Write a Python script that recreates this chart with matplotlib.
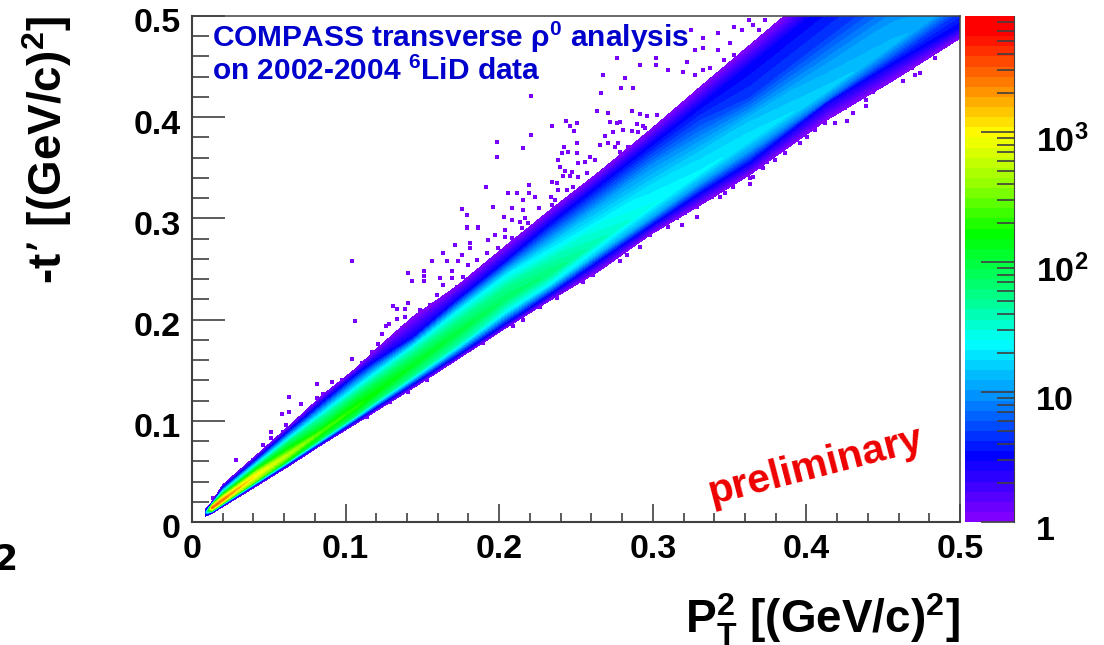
#coding=utf8

import numpy as np
import matplotlib
matplotlib.use('Agg')
import matplotlib.pyplot as plt
from matplotlib.colors import LinearSegmentedColormap
from matplotlib.ticker import FixedLocator, NullFormatter
from matplotlib.transforms import ScaledTranslation

plt.rcParams['font.family'] = ['Liberation Sans', 'DejaVu Sans']
plt.rcParams['font.weight'] = 'bold'
plt.rcParams['mathtext.default'] = 'regular'

# band, one column per pt2 value
pt2 = [0.0085, 0.013, 0.02, 0.042, 0.064, 0.0855, 0.107, 0.118, 0.144, 0.172,
       0.205, 0.233, 0.266, 0.298, 0.331, 0.363, 0.413, 0.457, 0.5]
edge_lo = [0.0055, 0.0085, 0.0151, 0.0355, 0.0563, 0.0775, 0.0975, 0.108, 0.1325, 0.16,
           0.1925, 0.219, 0.249, 0.2836, 0.3132, 0.343, 0.397, 0.4368, 0.478]
blue_lo = [0.006, 0.0095, 0.0165, 0.0375, 0.0585, 0.0795, 0.1005, 0.1115, 0.1365, 0.164,
           0.197, 0.225, 0.259, 0.292, 0.325, 0.3547, 0.414, 0.4535, 0.4895]
shoulder = [0.0075, 0.0115, 0.019, 0.041, 0.0625, 0.084, 0.106, 0.118, 0.145, 0.174,
            0.209, 0.235, 0.268, 0.3, 0.335, 0.367, 0.417, 0.462, 0.505]
ridge = [0.0085, 0.0138, 0.0216, 0.0464, 0.068, 0.0905, 0.1135, 0.1255, 0.155, 0.186,
         0.2215, 0.246, 0.2787, 0.3116, 0.345, 0.378, 0.426, 0.473, 0.517]
plateau = [0.009, 0.015, 0.024, 0.049, 0.071, 0.094, 0.1215, 0.134, 0.163, 0.196,
           0.232, 0.258, 0.294, 0.33, 0.364, 0.398, 0.45, 0.497, 0.545]
mid = [0.0095, 0.017, 0.0275, 0.054, 0.08, 0.105, 0.131, 0.1436, 0.172, 0.206,
       0.244, 0.272, 0.3116, 0.3509, 0.387, 0.419, 0.477, 0.527, 0.577]
blue_up = [0.0105, 0.0185, 0.0335, 0.062, 0.091, 0.119, 0.146, 0.158, 0.183, 0.219,
           0.259, 0.295, 0.334, 0.372, 0.412, 0.451, 0.512, 0.565, 0.619]
edge_up = [0.0119, 0.02, 0.0366, 0.066, 0.096, 0.126, 0.152, 0.168, 0.203, 0.2325,
           0.2737, 0.308, 0.347, 0.387, 0.43, 0.471, 0.535, 0.59, 0.645]

# counts on those rows
ridge_n = [3, 2800, 2600, 1000, 500, 250, 200, 160, 125, 100, 70, 60, 38, 26, 22, 20, 16, 13, 10]
plateau_n = [3, 1500, 1000, 500, 250, 130, 100, 90, 70, 55, 50, 40, 26, 19, 16, 14, 11, 10, 8]
shoulder_n = [2, 300, 500, 300, 150, 80, 70, 60, 50, 40, 25, 22, 14, 11, 10, 10, 7, 6, 5]
mid_n = [2, 200, 120, 80, 60, 40, 30, 30, 30, 25, 22, 18, 12, 9, 7, 5, 5, 5, 5]
blue_n = 3
edge_n = 1

# single-count cells outside the dense band
stray_x = [0.104, 0.1061, 0.1788, 0.1862, 0.1712, 0.181, 0.181, 0.1636, 0.156, 0.1658,
           0.1408, 0.151, 0.151, 0.151, 0.1434, 0.1691, 0.1615, 0.1691, 0.1973, 0.2038,
           0.2038, 0.1929, 0.1756, 0.1734, 0.1311, 0.1337, 0.1387, 0.1408, 0.1387, 0.1337,
           0.1285, 0.1261, 0.1239, 0.1213, 0.104,
           0.2342, 0.2435, 0.2461, 0.2487, 0.2509, 0.2509, 0.2422, 0.245, 0.2407, 0.2385,
           0.2396, 0.2428, 0.2472, 0.2504, 0.2515, 0.2559, 0.2591, 0.2624, 0.2417, 0.2461,
           0.2515, 0.257, 0.2689, 0.2711, 0.2635, 0.2721, 0.2765, 0.2743, 0.2808, 0.2786,
           0.2863, 0.2917, 0.296, 0.3025, 0.2895, 0.2938, 0.2863, 0.2906, 0.2949, 0.2656,
           0.2711, 0.2754, 0.2776, 0.2841, 0.2786, 0.2342, 0.2374, 0.2385, 0.2439, 0.2483,
           0.2363, 0.2342,
           0.3286, 0.3188, 0.3101, 0.321, 0.3383, 0.3438, 0.347, 0.352, 0.3633, 0.3633,
           0.3654, 0.3719, 0.283, 0.2786, 0.2917, 0.2613, 0.2548, 0.2982, 0.3459, 0.3286,
           0.3155,
           0.4262, 0.4186, 0.4306, 0.4388, 0.4388, 0.4631, 0.4707, 0.474, 0.4686, 0.4837,
           0.4837, 0.4761, 0.4902, 0.4978, 0.3958, 0.4002, 0.4056, 0.4121, 0.3861, 0.3796,
           0.3709, 0.3741, 0.3893, 0.4251, 0.4316, 0.4436, 0.4533, 0.4598, 0.4653, 0.474,
           0.3629, 0.3527, 0.3578, 0.3654, 0.373, 0.3693, 0.3426, 0.3426, 0.3502, 0.3527,
           0.3464, 0.3324, 0.3324, 0.3274, 0.3249, 0.3223, 0.3096, 0.3198, 0.3274, 0.3324,
           0.3375, 0.2766, 0.2919, 0.302, 0.302, 0.2678, 0.2817, 0.2792, 0.2868, 0.2665,
           0.2208,
           0.1984, 0.1984, 0.1912, 0.1756, 0.1788, 0.1962, 0.1788, 0.1864,
           0.2158, 0.2208, 0.2056, 0.2119, 0.2195, 0.2195, 0.2234, 0.2158, 0.2335, 0.2081,
           0.2158, 0.2259, 0.2031, 0.2081, 0.217,
           0.0812, 0.0909, 0.0634, 0.071, 0.0634, 0.0584, 0.061, 0.0512, 0.0512, 0.046,
           0.0286, 0.0812, 0.0855, 0.0193, 0.0247, 0.0139, 0.0334, 0.0399, 0.0551, 0.0595,
           0.0725, 0.0801, 0.092, 0.1007,
           0.0975, 0.105, 0.1105, 0.117, 0.1246, 0.1365, 0.1419, 0.1473, 0.1484, 0.155,
           0.1593, 0.1636, 0.1723, 0.1766, 0.1799, 0.1853, 0.1918, 0.1994, 0.2081, 0.2146,
           0.2135, 0.219,
           0.1137, 0.1289, 0.1408, 0.1528, 0.1897, 0.2092, 0.2157, 0.2266, 0.2374]
stray_t = [0.2582, 0.1986, 0.2912, 0.2912, 0.2737, 0.2757, 0.2708, 0.2661, 0.2582, 0.2582,
           0.2457, 0.248, 0.2432, 0.2382, 0.2381, 0.248, 0.2411, 0.2411, 0.2836, 0.2885,
           0.2819, 0.2787, 0.2638, 0.2582, 0.2134, 0.2108, 0.2108, 0.2161, 0.2029, 0.2006,
           0.1957, 0.1937, 0.1858, 0.1759, 0.1611,
           0.3913, 0.3962, 0.3913, 0.3867, 0.394, 0.3742, 0.3709, 0.3659, 0.3643, 0.3577,
           0.3505, 0.3471, 0.3455, 0.3643, 0.3544, 0.356, 0.361, 0.3577, 0.3419, 0.3419,
           0.3412, 0.3446, 0.3814, 0.4039, 0.4061, 0.3955, 0.3946, 0.3857, 0.3874, 0.3955,
           0.4061, 0.4032, 0.4012, 0.4022, 0.3933, 0.3913, 0.3867, 0.3857, 0.389, 0.3725,
           0.3742, 0.3709, 0.3742, 0.3709, 0.3659, 0.3363, 0.3347, 0.3281, 0.3281, 0.3307,
           0.3182, 0.3132,
           0.3011, 0.2935, 0.2912, 0.305, 0.3209, 0.3209, 0.3248, 0.3307, 0.334, 0.3399,
           0.3412, 0.3495, 0.2638, 0.2582, 0.272, 0.2441, 0.2375, 0.2836, 0.3347, 0.3116,
           0.3001,
           0.3962, 0.3946, 0.4039, 0.4111, 0.417, 0.4361, 0.4417, 0.4439, 0.4483, 0.4582,
           0.4648, 0.4638, 0.4746, 0.4829, 0.3748, 0.3807, 0.3874, 0.3941, 0.3643, 0.3577,
           0.3511, 0.3561, 0.3742, 0.4088, 0.417, 0.4252, 0.4384, 0.445, 0.4548, 0.4631,
           0.496, 0.4894, 0.4862, 0.4911, 0.496, 0.4862, 0.4829, 0.4664, 0.473, 0.4615,
           0.4565, 0.478, 0.4681, 0.4664, 0.4862, 0.4548, 0.4466, 0.445, 0.4417, 0.4466,
           0.4483, 0.4582, 0.4516, 0.4582, 0.4516, 0.4417, 0.4384, 0.4285, 0.4285, 0.4236,
           0.4209,
           0.3758, 0.361, 0.3307, 0.309, 0.3034, 0.311, 0.2908, 0.2908,
           0.3693, 0.3824, 0.3248, 0.3248, 0.333, 0.3248, 0.3214, 0.3182, 0.3214, 0.31,
           0.3083, 0.31, 0.3017, 0.2984, 0.3001,
           0.1361, 0.1386, 0.1238, 0.1163, 0.1084, 0.1064, 0.0958, 0.0886, 0.0834, 0.0761,
           0.0613, 0.1222, 0.1265, 0.0309, 0.0375, 0.0234, 0.0514, 0.0613, 0.0794, 0.0893,
           0.1041, 0.1123, 0.1304, 0.142,
           0.1403, 0.1469, 0.1568, 0.1683, 0.1732, 0.1914, 0.1947, 0.1996, 0.2095, 0.2144,
           0.2243, 0.2342, 0.2325, 0.2424, 0.2539, 0.2589, 0.2655, 0.2705, 0.2803, 0.2902,
           0.2967, 0.2951,
           0.1034, 0.1189, 0.1288, 0.1403, 0.1766, 0.1937, 0.1996, 0.2122, 0.221]

# palette anchors as seen on the colour bar
palette_log = [0, 0.48, 0.94, 1.37, 1.7, 2.22, 2.6, 3.0, 3.35, 3.8, 3.892]
palette_col = ['#8000ff', '#0000ff', '#0090ff', '#00ffff', '#00ff90', '#00ff00',
               '#90ff00', '#ffff00', '#ff9000', '#ff0000', '#ff0000']

axis_ticks = [0, 0.1, 0.2, 0.3, 0.4, 0.5]
axis_labels = ['0', '0.1', '0.2', '0.3', '0.4', '0.5']
bar_ticks = [1, 10, 100, 1000]
bar_labels = ['1', '10', '$10^{2}$', '$10^{3}$']

W, H = 1104.0, 645.0
DARK = '#404040'


def box(left, top, right, bottom):
    return [left / W, 1 - bottom / H, (right - left) / W, (bottom - top) / H]


def shift_down(labels, fig, px):
    off = ScaledTranslation(0, -px / 100.0, fig.dpi_scale_trans)
    for lab in labels:
        lab.set_transform(lab.get_transform() + off)


def main():
    fig = plt.figure(figsize=(W / 100, H / 100), dpi=100)
    ax = fig.add_axes(box(192, 16, 960, 522))
    cax = fig.add_axes(box(965, 16, 1014, 522))

    n = len(pt2)
    rows_t = np.array([edge_lo, blue_lo, shoulder, ridge, plateau, mid, blue_up, edge_up])
    rows_n = np.array([[edge_n] * n, [blue_n] * n, shoulder_n, ridge_n, plateau_n, mid_n,
                       [blue_n] * n, [edge_n] * n], dtype=float)
    cols_x = np.tile(np.array(pt2), (rows_t.shape[0], 1))

    top = palette_log[-1]
    cmap = LinearSegmentedColormap.from_list(
        'compass', [(v / top, c) for v, c in zip(palette_log, palette_col)], N=50)
    levels = np.linspace(0, top, 51)

    ax.scatter(stray_x, stray_t, marker='s', s=12, color='#7a00ff', linewidths=0, zorder=1)
    ax.contourf(cols_x, rows_t, np.log10(rows_n), levels=levels, cmap=cmap,
                vmin=0, vmax=top, zorder=2)

    ax.set_xlim(0, 0.5)
    ax.set_ylim(0, 0.5)
    ax.set_xticks(axis_ticks)
    ax.set_xticklabels(axis_labels)
    ax.set_yticks(axis_ticks)
    ax.set_yticklabels(axis_labels)
    ax.xaxis.set_minor_locator(FixedLocator(np.arange(0, 0.501, 0.02)))
    ax.yaxis.set_minor_locator(FixedLocator(np.arange(0, 0.501, 0.02)))
    ax.tick_params(axis='x', which='major', direction='in', length=13, width=1.2,
                   color=DARK, labelsize=24.5, pad=9)
    ax.tick_params(axis='x', which='minor', direction='in', length=6.5, width=1.2, color=DARK)
    ax.tick_params(axis='y', which='major', direction='in', length=24, width=1.2,
                   color=DARK, labelsize=24.5, pad=8)
    ax.tick_params(axis='y', which='minor', direction='in', length=12, width=1.2, color=DARK)
    for side in ax.spines:
        ax.spines[side].set_color(DARK)
        ax.spines[side].set_linewidth(1.5)
    ax.spines['top'].set_linewidth(1.1)
    ax.spines['right'].set_linewidth(1.1)
    shift_down(ax.get_yticklabels(), fig, 4.5)

    ax.set_xlabel(r'$P_T^2$ [(GeV/c)$^2$]', fontsize=33, fontweight='bold', loc='right')
    ax.xaxis.set_label_coords(1.0, -0.138)
    ax.set_ylabel("-t’ [(GeV/c)$^2$]", fontsize=33, fontweight='bold', loc='top')
    ax.yaxis.set_label_coords(-0.153, 1.0)

    ax.text(0.013, 0.479, r'COMPASS transverse $\rho^{0}$ analysis', color='#0000cc',
            fontsize=21.5, va='center', zorder=5)
    ax.text(0.013, 0.4455, 'on 2002-2004 $^{6}$LiD data', color='#0000cc',
            fontsize=21.5, va='center', zorder=5)
    ax.text(0.336, 0.0285, 'preliminary', color='#ee0000', fontsize=29.5, rotation=14.5,
            rotation_mode='anchor', va='center', ha='left', zorder=5)

    # colour bar, one step per palette level
    bar_edges = 10 ** levels
    cax.pcolormesh([0, 1], bar_edges, ((levels[:-1] + levels[1:]) / 2)[:, None],
                   cmap=cmap, vmin=0, vmax=top)
    cax.set_yscale('log')
    cax.set_ylim(1, bar_edges[-1])
    cax.set_xticks([])
    cax.yaxis.tick_right()
    cax.set_yticks(bar_ticks)
    cax.set_yticklabels(bar_labels)
    minor = [m * d for d in bar_ticks for m in range(2, 10) if m * d < bar_edges[-1]]
    cax.yaxis.set_minor_locator(FixedLocator(minor))
    cax.yaxis.set_minor_formatter(NullFormatter())
    cax.tick_params(axis='y', which='major', direction='in', length=24, width=1.2,
                    color=DARK, labelsize=24.5, pad=16)
    cax.tick_params(axis='y', which='minor', direction='in', length=12, width=1.2, color=DARK)
    for side in cax.spines:
        cax.spines[side].set_visible(False)
    cax.spines['right'].set_visible(True)
    cax.spines['right'].set_color(DARK)
    shift_down(cax.get_yticklabels(), fig, 6)

    # cut off at the left edge of the page
    fig.text(17 / W, 1 - 560 / H, '2', fontsize=25, family='DejaVu Sans',
             ha='right', va='center', color='black')

    fig.savefig('out.png', dpi=100)


if __name__ == '__main__':
    main()
